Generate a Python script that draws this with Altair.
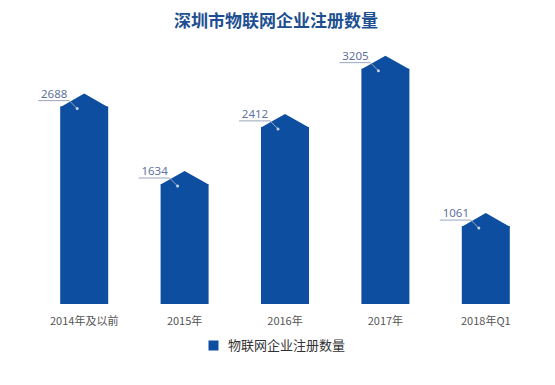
import altair as alt
import pandas as pd

categories = ["2014年及以前", "2015年", "2016年", "2017年", "2018年Q1"]
values = [2688, 1634, 2412, 3205, 1061]
series_name = "物联网企业注册数量"
title_text = "深圳市物联网企业注册数量"

BAR = "#0d4ea0"
LINE = "#9aa6bd"
DOT = "#c9d3e6"
LABEL = "#5f72a0"
CJK = "Noto Sans CJK SC"

df = pd.DataFrame({"category": categories, "value": values, "series": [series_name] * len(values)})

base = alt.Chart(df).encode(
    x=alt.X(
        "category:N",
        sort=categories,
        scale=alt.Scale(paddingInner=0, paddingOuter=0),
        axis=alt.Axis(
            title=None, domain=False, ticks=False, labelAngle=0, labelPadding=11,
            labelFont=CJK, labelFontSize=11, labelColor="#555555", grid=False,
        ),
    ),
    y=alt.Y("value:Q", scale=alt.Scale(domain=[0, 3500], nice=False), axis=None),
)

bars = base.mark_bar(size=48).encode(
    color=alt.Color(
        "series:N",
        scale=alt.Scale(range=[BAR]),
        legend=alt.Legend(
            title=None, orient="none", legendX=173, legendY=292, symbolType="square",
            symbolSize=100, symbolStrokeWidth=0, labelFont=CJK, labelFontSize=13,
            labelColor="#333333", labelOffset=8,
        ),
    )
)

roof = base.mark_point(
    shape="M-24,0.6L0,-13L24,0.6Z", size=4, filled=True, color=BAR, opacity=1, strokeWidth=0
)

leader = base.mark_point(
    shape="M-46,-6L-15,-6L-7,2", size=4, filled=False, stroke=LINE, strokeWidth=1, opacity=1,
)

dot = base.mark_point(filled=True, size=9, color=DOT, xOffset=-7, yOffset=2, opacity=1)

labels = base.mark_text(
    dx=-30, dy=-12, align="center", baseline="middle", font="Noto Sans",
    fontSize=11.5, color=LABEL,
).encode(text="value:Q")

chart = (
    alt.layer(bars, roof, leader, dot, labels)
    .properties(
        width=502,
        height=257,
        background="white",
        padding={"left": 26, "top": 39, "right": 11, "bottom": 70},
        autosize=alt.AutoSizeParams(type="none"),
        title=alt.TitleParams(
            title_text, anchor="middle", frame="group", offset=16, dx=-9,
            font=CJK, fontSize=17, fontWeight="bold", color="#1d4f91",
        ),
    )
    .configure_view(strokeWidth=0, stroke="transparent")
)

chart.save("out.html", embed_options={"renderer": "svg", "actions": False})
